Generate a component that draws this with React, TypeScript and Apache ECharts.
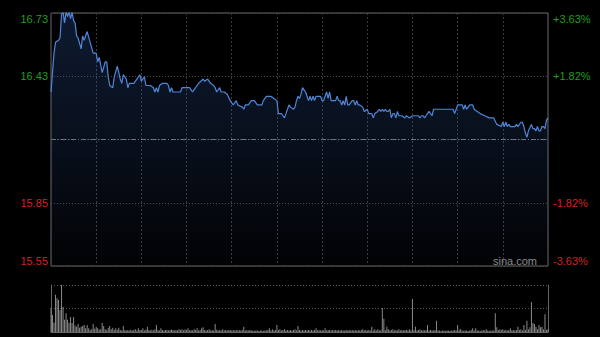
import React, { useEffect, useRef } from "react";
import * as echarts from "echarts";

// Previous close and axis range (percent)
const prevClose = 16.14;
const pctRange = 3.63;

// Minutes since open (HK session, 330 trading minutes)
const priceMinutes = [
  0, 2, 3, 5, 6, 7, 8, 9, 10, 11, 12, 13, 14, 15, 16, 17, 18, 20, 21, 22,
  24, 26, 28, 30, 31, 32, 34, 36, 37, 38, 39, 41, 42, 44, 46, 47, 48, 50, 51, 52,
  55, 57, 59, 60, 62, 63, 66, 68, 69, 70, 71, 72, 74, 77, 78, 79, 80, 81, 82, 86,
  87, 90, 92, 94, 96, 98, 101, 102, 104, 106, 108, 109, 110, 111, 112, 113, 115, 117, 119, 120,
  121, 123, 124, 127, 128, 129, 131, 133, 135, 137, 140, 141, 143, 146, 148, 150, 151, 153, 154, 155,
  156, 158, 159, 161, 162, 163, 164, 165, 166, 167, 169, 170, 171, 172, 173, 174, 175, 176, 179, 180,
  181, 182, 183, 184, 185, 186, 189, 190, 191, 192, 193, 194, 195, 196, 197, 198, 200, 201, 202, 203,
  204, 205, 207, 208, 210, 211, 213, 214, 215, 217, 218, 219, 220, 221, 222, 223, 224, 225, 226, 227,
  228, 229, 230, 231, 233, 235, 236, 238, 240, 244, 245, 246, 247, 248, 249, 251, 253, 254, 256, 267,
  268, 270, 273, 274, 275, 276, 277, 278, 280, 281, 283, 285, 288, 291, 294, 296, 299, 300, 301, 302,
  303, 304, 305, 306, 308, 309, 310, 312, 313, 314, 315, 316, 317, 319, 320, 321, 322, 323, 324, 325,
  326, 327, 328, 329, 330,
];

const prices = [
  16.36, 16.54, 16.59, 16.6, 16.61, 16.72, 16.73, 16.68, 16.73, 16.71, 16.73, 16.7, 16.73, 16.69, 16.68, 16.62, 16.61, 16.56, 16.62, 16.6,
  16.64, 16.59, 16.54, 16.54, 16.5, 16.52, 16.45, 16.5, 16.5, 16.43, 16.39, 16.38, 16.43, 16.48, 16.42, 16.4, 16.44, 16.42, 16.38, 16.4,
  16.4, 16.42, 16.44, 16.41, 16.43, 16.39, 16.39, 16.38, 16.36, 16.38, 16.36, 16.39, 16.4, 16.4, 16.39, 16.36, 16.38, 16.36, 16.36, 16.36,
  16.38, 16.38, 16.38, 16.36, 16.38, 16.4, 16.42, 16.41, 16.42, 16.4, 16.39, 16.38, 16.36, 16.37, 16.38, 16.36, 16.36, 16.35, 16.32, 16.31,
  16.3, 16.32, 16.3, 16.29, 16.28, 16.3, 16.3, 16.32, 16.32, 16.3, 16.3, 16.32, 16.34, 16.34, 16.33, 16.32, 16.26, 16.26, 16.25, 16.24,
  16.26, 16.3, 16.29, 16.28, 16.29, 16.32, 16.34, 16.33, 16.35, 16.38, 16.36, 16.34, 16.32, 16.34, 16.32, 16.34, 16.32, 16.34, 16.34, 16.32,
  16.32, 16.34, 16.36, 16.33, 16.36, 16.32, 16.32, 16.34, 16.32, 16.32, 16.3, 16.32, 16.3, 16.34, 16.3, 16.3, 16.32, 16.32, 16.3, 16.32,
  16.3, 16.3, 16.29, 16.27, 16.28, 16.26, 16.26, 16.24, 16.26, 16.27, 16.28, 16.27, 16.28, 16.27, 16.28, 16.27, 16.27, 16.28, 16.24, 16.26,
  16.26, 16.24, 16.27, 16.25, 16.25, 16.24, 16.25, 16.24, 16.25, 16.25, 16.24, 16.25, 16.25, 16.24, 16.25, 16.27, 16.25, 16.28, 16.28, 16.28,
  16.26, 16.3, 16.3, 16.28, 16.3, 16.28, 16.29, 16.3, 16.3, 16.28, 16.27, 16.26, 16.25, 16.24, 16.24, 16.21, 16.2, 16.22, 16.2, 16.22,
  16.2, 16.21, 16.2, 16.2, 16.2, 16.21, 16.2, 16.22, 16.22, 16.2, 16.17, 16.15, 16.18, 16.21, 16.19, 16.19, 16.18, 16.2, 16.18, 16.18,
  16.2, 16.2, 16.19, 16.23, 16.24,
];

// Volume per minute (relative units, 0..100), minutes 0..330
const volumes = [
  51, 36, 20, 79, 72, 68, 47, 100, 53, 26, 40, 26, 19, 32, 19, 32, 14, 11, 17, 9, 11, 13, 15, 8, 15, 8, 4, 6, 17, 7,
  11, 8, 5, 6, 19, 13, 6, 4, 9, 13, 6, 9, 4, 8, 5, 9, 4, 3, 13, 4, 3, 4, 3, 5, 3, 4, 6, 3, 8, 4,
  4, 8, 3, 5, 11, 4, 3, 5, 3, 6, 15, 4, 3, 8, 4, 3, 4, 4, 3, 4, 5, 4, 3, 4, 3, 6, 4, 6, 3, 6,
  4, 8, 3, 4, 3, 6, 4, 8, 3, 4, 8, 10, 4, 3, 4, 6, 3, 4, 3, 17, 5, 3, 4, 3, 6, 3, 4, 3, 4, 4,
  3, 4, 3, 4, 3, 4, 3, 4, 11, 3, 4, 3, 4, 3, 3, 2, 3, 3, 2, 3, 3, 2, 3, 3, 4, 8, 3, 6, 3, 4,
  15, 4, 6, 3, 4, 6, 3, 4, 3, 4, 3, 4, 6, 3, 13, 4, 3, 4, 3, 4, 3, 4, 3, 4, 3, 4, 8, 3, 4, 3,
  4, 3, 8, 3, 4, 4, 3, 4, 3, 4, 3, 4, 3, 4, 3, 3, 4, 3, 4, 3, 4, 3, 4, 3, 4, 3, 4, 6, 3, 4,
  3, 4, 3, 11, 3, 6, 3, 6, 3, 4, 51, 28, 4, 11, 6, 3, 4, 6, 3, 4, 3, 6, 3, 4, 3, 4, 4, 3, 6, 3,
  70, 4, 11, 3, 4, 6, 3, 4, 3, 4, 15, 3, 4, 3, 3, 4, 24, 3, 3, 2, 3, 3, 2, 3, 3, 2, 3, 3, 4, 3,
  15, 4, 6, 3, 2, 3, 3, 2, 3, 4, 8, 3, 8, 3, 3, 2, 3, 4, 3, 6, 3, 2, 3, 3, 3, 40, 10, 4, 6, 4,
  6, 3, 4, 3, 4, 8, 3, 4, 3, 4, 11, 4, 6, 3, 15, 4, 24, 6, 10, 64, 19, 17, 11, 6, 15, 10, 11, 6, 38, 4, 6,
];

const GREEN = "#1f9e1f";
const RED = "#d42222";
const FONT = "'Liberation Sans', Arial, sans-serif";

export default function App() {
  const ref = useRef<HTMLDivElement>(null);

  useEffect(() => {
    if (!ref.current) return;
    document.body.style.margin = "0";
    document.body.style.background = "#000";
    const chart = echarts.init(ref.current, undefined, { renderer: "svg" });

    const lineData = priceMinutes.map((m, i) => [m, ((prices[i] - prevClose) / prevClose) * 100]);
    const volData = volumes.map((v, i) => [i, v]);

    const fmtPct = (v: number) => (Math.abs(v) + 1e-9).toFixed(2);

    chart.setOption({
      animation: false,
      backgroundColor: "#000",
      grid: [
        { left: 51, right: 52, top: 13, height: 253, show: true, borderColor: "#666", borderWidth: 1, backgroundColor: "transparent" },
        { left: 51, right: 52, top: 285, height: 47, show: false },
      ],
      xAxis: [
        {
          type: "value", gridIndex: 0, min: 0, max: 330, interval: 30,
          axisLine: { show: false }, axisTick: { show: false }, axisLabel: { show: false },
          splitLine: { show: true, lineStyle: { color: "#3a3a3a", type: [2, 2], width: 1 } },
        },
        {
          type: "value", gridIndex: 1, min: 0, max: 330, interval: 30,
          axisLine: { show: true, onZero: false, lineStyle: { color: "#666" } },
          axisTick: { show: false }, axisLabel: { show: false }, splitLine: { show: false },
        },
      ],
      yAxis: [
        {
          type: "value", gridIndex: 0, position: "left", min: -pctRange, max: pctRange, interval: pctRange / 2,
          axisLine: { show: false }, axisTick: { show: false },
          axisLabel: {
            margin: 3, fontSize: 11, fontFamily: FONT,
            formatter: (v: number) => (Math.abs(v) < 1e-6 ? "" : (prevClose * (1 + v / 100)).toFixed(2)),
            color: (v: any) => (Number(v) > 0 ? GREEN : RED),
            verticalAlignMaxLabel: "top", verticalAlignMinLabel: "bottom",
          },
          splitLine: { show: true, lineStyle: { color: "#4a4a4a", type: [1, 2] } },
        },
        {
          type: "value", gridIndex: 0, position: "right", min: -pctRange, max: pctRange, interval: pctRange / 2,
          axisLine: { show: false }, axisTick: { show: false },
          axisLabel: {
            margin: 5, fontSize: 11, fontFamily: FONT,
            formatter: (v: number) => (Math.abs(v) < 1e-6 ? "" : (v > 0 ? "+" : "-") + fmtPct(v) + "%"),
            color: (v: any) => (Number(v) > 0 ? GREEN : RED),
            verticalAlignMaxLabel: "top", verticalAlignMinLabel: "bottom",
          },
          splitLine: { show: false },
        },
        {
          type: "value", gridIndex: 1, position: "left", min: 0, max: 100, interval: 50,
          axisLine: { show: true, lineStyle: { color: "#666" } }, axisTick: { show: false }, axisLabel: { show: false },
          splitLine: { show: true, lineStyle: { color: "#555", type: [1, 2] } },
        },
        {
          type: "value", gridIndex: 1, position: "right", min: 0, max: 100, interval: 50,
          axisLine: { show: true, lineStyle: { color: "#666" } }, axisTick: { show: false }, axisLabel: { show: false },
          splitLine: { show: false },
        },
      ],
      series: [
        {
          type: "line", xAxisIndex: 0, yAxisIndex: 0, data: lineData, showSymbol: false, symbol: "none",
          lineStyle: { color: "#4f86d8", width: 1.2 },
          areaStyle: {
            origin: "start",
            color: new echarts.graphic.LinearGradient(0, 0, 0, 1, [
              { offset: 0, color: "rgba(60,110,200,0.34)" },
              { offset: 0.5, color: "rgba(60,110,200,0.2)" },
              { offset: 1, color: "rgba(60,110,200,0.03)" },
            ]),
          },
          markLine: {
            silent: true, symbol: "none", label: { show: false },
            lineStyle: { color: "#6b7584", type: [5, 2, 1, 2], width: 1 },
            data: [{ yAxis: 0 }],
          },
        },
        {
          type: "bar", xAxisIndex: 1, yAxisIndex: 2, data: volData, barWidth: 1,
          itemStyle: { color: "#8a8a8a" },
        },
      ],
      graphic: [
        {
          type: "text", right: 63, top: 255,
          style: { text: "sina.com", fill: "#8c8c8c", font: `11px ${FONT}` },
          silent: true,
        },
      ],
    });

    return () => chart.dispose();
  }, []);

  return <div ref={ref} style={{ position: "absolute", left: 0, top: 0, width: 600, height: 337 }} />;
}
